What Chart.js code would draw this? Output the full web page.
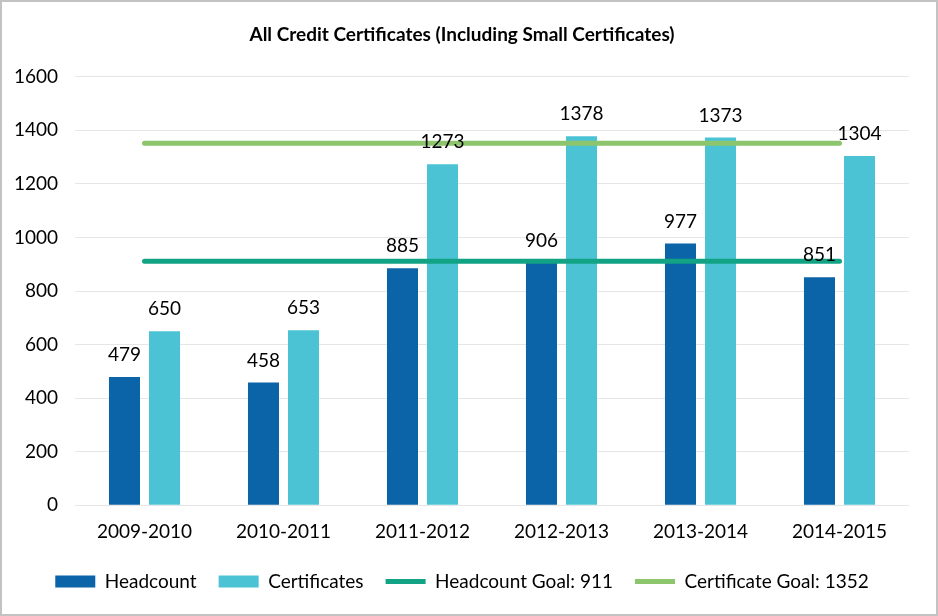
<!DOCTYPE html>
<html>
<head>
<meta charset="utf-8">
<script src="https://cdn.jsdelivr.net/npm/chart.js@4"></script>
<style>
  html, body { margin: 0; padding: 0; background: #fff; }
  #wrap { width: 938px; height: 616px; box-sizing: border-box; border: 2px solid #c3c3c3; position: relative; }
</style>
</head>
<body>
<div id="wrap"><canvas id="chart"></canvas></div>
<script>
const years = ["2009-2010", "2010-2011", "2011-2012", "2012-2013", "2013-2014", "2014-2015"];
const headcount = [479, 458, 885, 906, 977, 851];
const certificates = [650, 653, 1273, 1378, 1373, 1304];
const headcountGoal = [911, 911, 911, 911, 911, 911];
const certificateGoal = [1352, 1352, 1352, 1352, 1352, 1352];
const yTicks = [0, 200, 400, 600, 800, 1000, 1200, 1400, 1600];

const fontFamily = "Lato, 'Open Sans', sans-serif";

// draws the numbers above the bars
const barLabels = {
  id: 'barLabels',
  afterDatasetsDraw(chart) {
    const ctx = chart.ctx;
    ctx.save();
    ctx.font = "19px " + fontFamily;
    ctx.fillStyle = "#000";
    ctx.textAlign = "center";
    ctx.textBaseline = "middle";
    for (const i of [0, 1]) {
      const meta = chart.getDatasetMeta(i);
      meta.data.forEach((bar, j) => {
        ctx.fillText(chart.data.datasets[i].data[j], bar.x, bar.y - 22);
      });
    }
    ctx.restore();
  }
};

new Chart(document.getElementById("chart"), {
  type: 'bar',
  data: {
    labels: years,
    datasets: [
      {
        label: "Headcount",
        data: headcount,
        backgroundColor: "#0b63a8",
        categoryPercentage: 0.576,
        barPercentage: 0.775,
        order: 2
      },
      {
        label: "Certificates",
        data: certificates,
        backgroundColor: "#4cc3d5",
        categoryPercentage: 0.576,
        barPercentage: 0.775,
        order: 2
      },
      {
        type: 'line',
        label: "Headcount Goal: 911",
        data: headcountGoal,
        borderColor: "#12a384",
        backgroundColor: "#12a384",
        borderWidth: 5,
        borderCapStyle: 'round',
        pointRadius: 0,
        order: 1
      },
      {
        type: 'line',
        label: "Certificate Goal: 1352",
        data: certificateGoal,
        borderColor: "#8cc56b",
        backgroundColor: "#8cc56b",
        borderWidth: 5,
        borderCapStyle: 'round',
        pointRadius: 0,
        order: 1
      }
    ]
  },
  options: {
    responsive: true,
    maintainAspectRatio: false,
    animation: false,
    layout: { padding: { left: 13, right: 27, top: 0, bottom: 13 } },
    plugins: {
      title: {
        display: true,
        text: "All Credit Certificates (Including Small Certificates)",
        color: "#000",
        font: { family: fontFamily, size: 19, weight: 'bold' },
        padding: { top: 21, bottom: 31 }
      },
      legend: {
        position: 'bottom',
        labels: {
          color: "#000",
          font: { family: fontFamily, size: 19 },
          usePointStyle: true,
          pointStyleWidth: 40,
          boxHeight: 12,
          padding: 22,
          sort: (a, b) => a.datasetIndex - b.datasetIndex,
          generateLabels(chart) {
            const items = Chart.defaults.plugins.legend.labels.generateLabels(chart);
            items.forEach(item => {
              if (item.datasetIndex < 2) {
                item.pointStyle = 'rect';
                item.lineWidth = 0;
              } else {
                item.pointStyle = 'line';
                item.lineWidth = 5;
              }
            });
            return items;
          }
        }
      },
      tooltip: { enabled: false }
    },
    scales: {
      x: {
        grid: { display: false },
        border: { display: false },
        ticks: { color: "#000", font: { family: fontFamily, size: 19 }, padding: 7 }
      },
      y: {
        min: 0,
        max: 1600,
        afterBuildTicks(axis) {
          axis.ticks = yTicks.map(v => ({ value: v }));
        },
        afterFit(axis) {
          axis.width = 60;
        },
        grid: { color: "#e6e6e6", drawTicks: false },
        border: { display: false },
        ticks: {
          color: "#000",
          font: { family: fontFamily, size: 19 },
          padding: 17,
          callback: (v) => String(v)
        }
      }
    }
  },
  plugins: [barLabels]
});
</script>
</body>
</html>
